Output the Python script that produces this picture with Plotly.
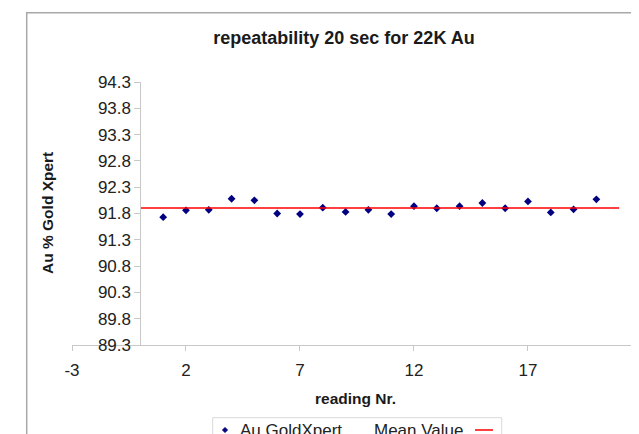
import numpy as np
import plotly.graph_objects as go

# ---- data ----
reading_nr = list(range(1, 21))
au_goldxpert = [91.73, 91.86, 91.87, 92.08, 92.05, 91.80, 91.79, 91.91, 91.83, 91.87,
                91.79, 91.94, 91.90, 91.94, 92.00, 91.90, 92.03, 91.82, 91.88, 92.07]
mean_x = [0, 21]
mean_value = float(np.mean(au_goldxpert))
x_tickvals = [-3, 2, 7, 12, 17, 22]
y_tickvals = [89.3, 89.8, 90.3, 90.8, 91.3, 91.8, 92.3, 92.8, 93.3, 93.8, 94.3]

# ---- layout geometry (page has an 8px body margin) ----
OFF = 8
W, H = 639 - OFF, 434 - OFF
ML, MR, MT, MB = 72 - OFF, 0, 82 - OFF, 89
X_RANGE = [-3, 21.87]
Y_RANGE = [89.3, 94.3]
PW = W - ML - MR
PH = H - MT - MB

def px_x(p):
    return (p - OFF - ML) / PW

def px_y(p):
    return (H - MB - (p - OFF)) / PH

FONT = "Liberation Sans, Arial, sans-serif"
AXIS_COLOR = "#c8c8c8"
TXT = "#222222"

fig = go.Figure()
fig.add_trace(go.Scatter(
    x=reading_nr, y=au_goldxpert, mode="markers", name="Au GoldXpert",
    marker=dict(symbol="diamond", size=6, color="#000080"), showlegend=False,
))
fig.add_trace(go.Scatter(
    x=mean_x, y=[mean_value, mean_value], mode="lines", name="Mean Value",
    line=dict(color="#ff0000", width=1.5), showlegend=False,
))

yaxis_pos = (0 - X_RANGE[0]) / (X_RANGE[1] - X_RANGE[0])

fig.update_layout(
    width=W, height=H, autosize=False,
    margin=dict(l=ML, r=MR, t=MT, b=MB, pad=0),
    paper_bgcolor="white", plot_bgcolor="white",
    font=dict(family=FONT, color=TXT),
    title=dict(text="<b>repeatability 20 sec for 22K Au</b>", x=(344 - OFF) / W, xanchor="center",
               y=1 - (38 - OFF) / H, yanchor="middle", font=dict(size=18, color="#1a1a1a")),
    xaxis=dict(range=X_RANGE, tickvals=x_tickvals, ticktext=[str(v) for v in x_tickvals],
               showgrid=False, zeroline=False, showline=True, linecolor=AXIS_COLOR, linewidth=1,
               ticks="outside", ticklen=5, tickcolor=AXIS_COLOR, ticklabelstandoff=5,
               tickfont=dict(size=17, color=TXT),
               title=dict(text="<b>reading Nr.</b>", font=dict(size=15.5, color="#1a1a1a"), standoff=13)),
    yaxis=dict(range=Y_RANGE, tickvals=y_tickvals, ticktext=[f"{v:.1f}" for v in y_tickvals],
               anchor="free", position=yaxis_pos,
               showgrid=False, zeroline=False, showline=True, linecolor=AXIS_COLOR, linewidth=1,
               ticks="outside", ticklen=6, tickcolor=AXIS_COLOR,
               tickfont=dict(size=17, color=TXT)),
)

# y-axis title
fig.add_annotation(text="<b>Au % Gold Xpert</b>", xref="paper", yref="paper",
                   x=px_x(47.5), y=0.5, textangle=-90, showarrow=False,
                   font=dict(size=15.5, color="#1a1a1a"), xanchor="center", yanchor="middle")

# partially visible "22" tick label at the cut-off right edge
fig.add_annotation(text="22", xref="paper", yref="paper",
                   x=(22 - X_RANGE[0]) / (X_RANGE[1] - X_RANGE[0]), y=px_y(370),
                   showarrow=False, font=dict(size=17, color=TXT),
                   xanchor="center", yanchor="middle")

# chart area border (cropped on right & bottom)
fig.add_shape(type="rect", xref="paper", yref="paper",
              x0=px_x(26.7), x1=px_x(700), y0=px_y(12.7), y1=px_y(500),
              line=dict(color="#a8a8a8", width=1.5), fillcolor="rgba(0,0,0,0)", layer="below")

# legend box (cropped at bottom)
fig.add_shape(type="rect", xref="paper", yref="paper",
              x0=px_x(212.7), x1=px_x(501.7), y0=px_y(417.7), y1=px_y(470),
              line=dict(color="#d9d9d9", width=1), fillcolor="rgba(0,0,0,0)")
# legend marker (diamond)
cx, cy, r = 225, 430, 2.5
fig.add_shape(type="path", xref="paper", yref="paper",
              path=f"M {px_x(cx)} {px_y(cy - r)} L {px_x(cx + r)} {px_y(cy)} L {px_x(cx)} {px_y(cy + r)} L {px_x(cx - r)} {px_y(cy)} Z",
              line=dict(color="#000080", width=1), fillcolor="#000080")
fig.add_annotation(text="Au GoldXpert", xref="paper", yref="paper", x=px_x(238), y=px_y(430),
                   showarrow=False, xanchor="left", yanchor="middle", font=dict(size=17, color=TXT))
fig.add_annotation(text="Mean Value", xref="paper", yref="paper", x=px_x(372), y=px_y(430),
                   showarrow=False, xanchor="left", yanchor="middle", font=dict(size=17, color=TXT))
fig.add_shape(type="line", xref="paper", yref="paper",
              x0=px_x(475), x1=px_x(493), y0=px_y(430), y1=px_y(430),
              line=dict(color="#ff0000", width=1.5))

fig.write_html("out.html")
